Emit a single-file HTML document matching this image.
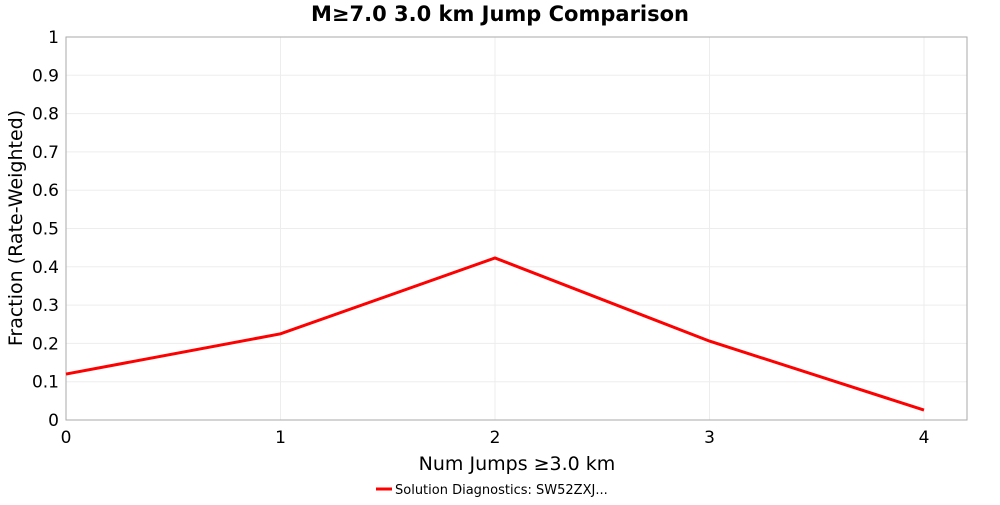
<!DOCTYPE html>
<html><head><meta charset="utf-8"><style>
body{margin:0;background:#fff;font-family:"Liberation Sans","DejaVu Sans",sans-serif;}
</style></head><body>
<svg width="1000" height="500" xmlns="http://www.w3.org/2000/svg" id="chart">
<rect width="1000" height="500" fill="#fff"/>
<text x="500" y="21" text-anchor="middle" font-family="DejaVu Sans,sans-serif" font-weight="bold" font-size="21">M≥7.0 3.0 km Jump Comparison</text>
<g id="grid"></g>
<rect x="66" y="37" width="901" height="383" fill="none" stroke="#aaa"/>
<g id="ticks"></g>
<text x="517" y="470" text-anchor="middle" font-family="DejaVu Sans,sans-serif" font-size="19">Num Jumps ≥3.0 km</text>
<text transform="translate(22,228) rotate(-90)" text-anchor="middle" font-family="DejaVu Sans,sans-serif" font-size="19">Fraction (Rate-Weighted)</text>
<g>
<line x1="376" y1="489" x2="392" y2="489" stroke="red" stroke-width="3"/>
<text x="395" y="494" font-family="DejaVu Sans,sans-serif" font-size="13">Solution Diagnostics: SW52ZXJ...</text>
</g>
<g id="series"></g>
</svg>
<script>
const categories=[0,1,2,3,4];
const values=[0.12,0.225,0.423,0.206,0.026];
const xTicks=["0","1","2","3","4"];
const yTicks=["0","0.1","0.2","0.3","0.4","0.5","0.6","0.7","0.8","0.9","1"];
const NS="http://www.w3.org/2000/svg";
const X=v=>66+v*214.5, Y=v=>420-v*383;
const grid=document.getElementById('grid'),ticks=document.getElementById('ticks'),series=document.getElementById('series');
function mk(t,a,p){const e=document.createElementNS(NS,t);for(const k in a)e.setAttribute(k,a[k]);p.appendChild(e);return e;}
yTicks.forEach((s,i)=>{const v=parseFloat(s),y=Y(v);
 const g=mk('line',{x1:66,x2:967,y1:y,y2:y,stroke:'#ededed'},grid);
 
 
 const t=mk('text',{x:59,y:y+6,'text-anchor':'end','font-size':17,'font-family':'DejaVu Sans,sans-serif'},ticks);t.textContent=s;
 
 
});
xTicks.forEach(s=>{const x=X(parseFloat(s));
 const g=mk('line',{x1:x,x2:x,y1:37,y2:420,stroke:'#ededed'},grid);
 
 
 const t=mk('text',{x:x,y:443,'text-anchor':'middle','font-size':17,'font-family':'DejaVu Sans,sans-serif'},ticks);t.textContent=s;
 
 
});
const pl=mk('polyline',{points:categories.map((c,i)=>X(c)+','+Y(values[i])).join(' '),fill:'none',stroke:'red','stroke-width':3},series);


</script>
</body></html>
